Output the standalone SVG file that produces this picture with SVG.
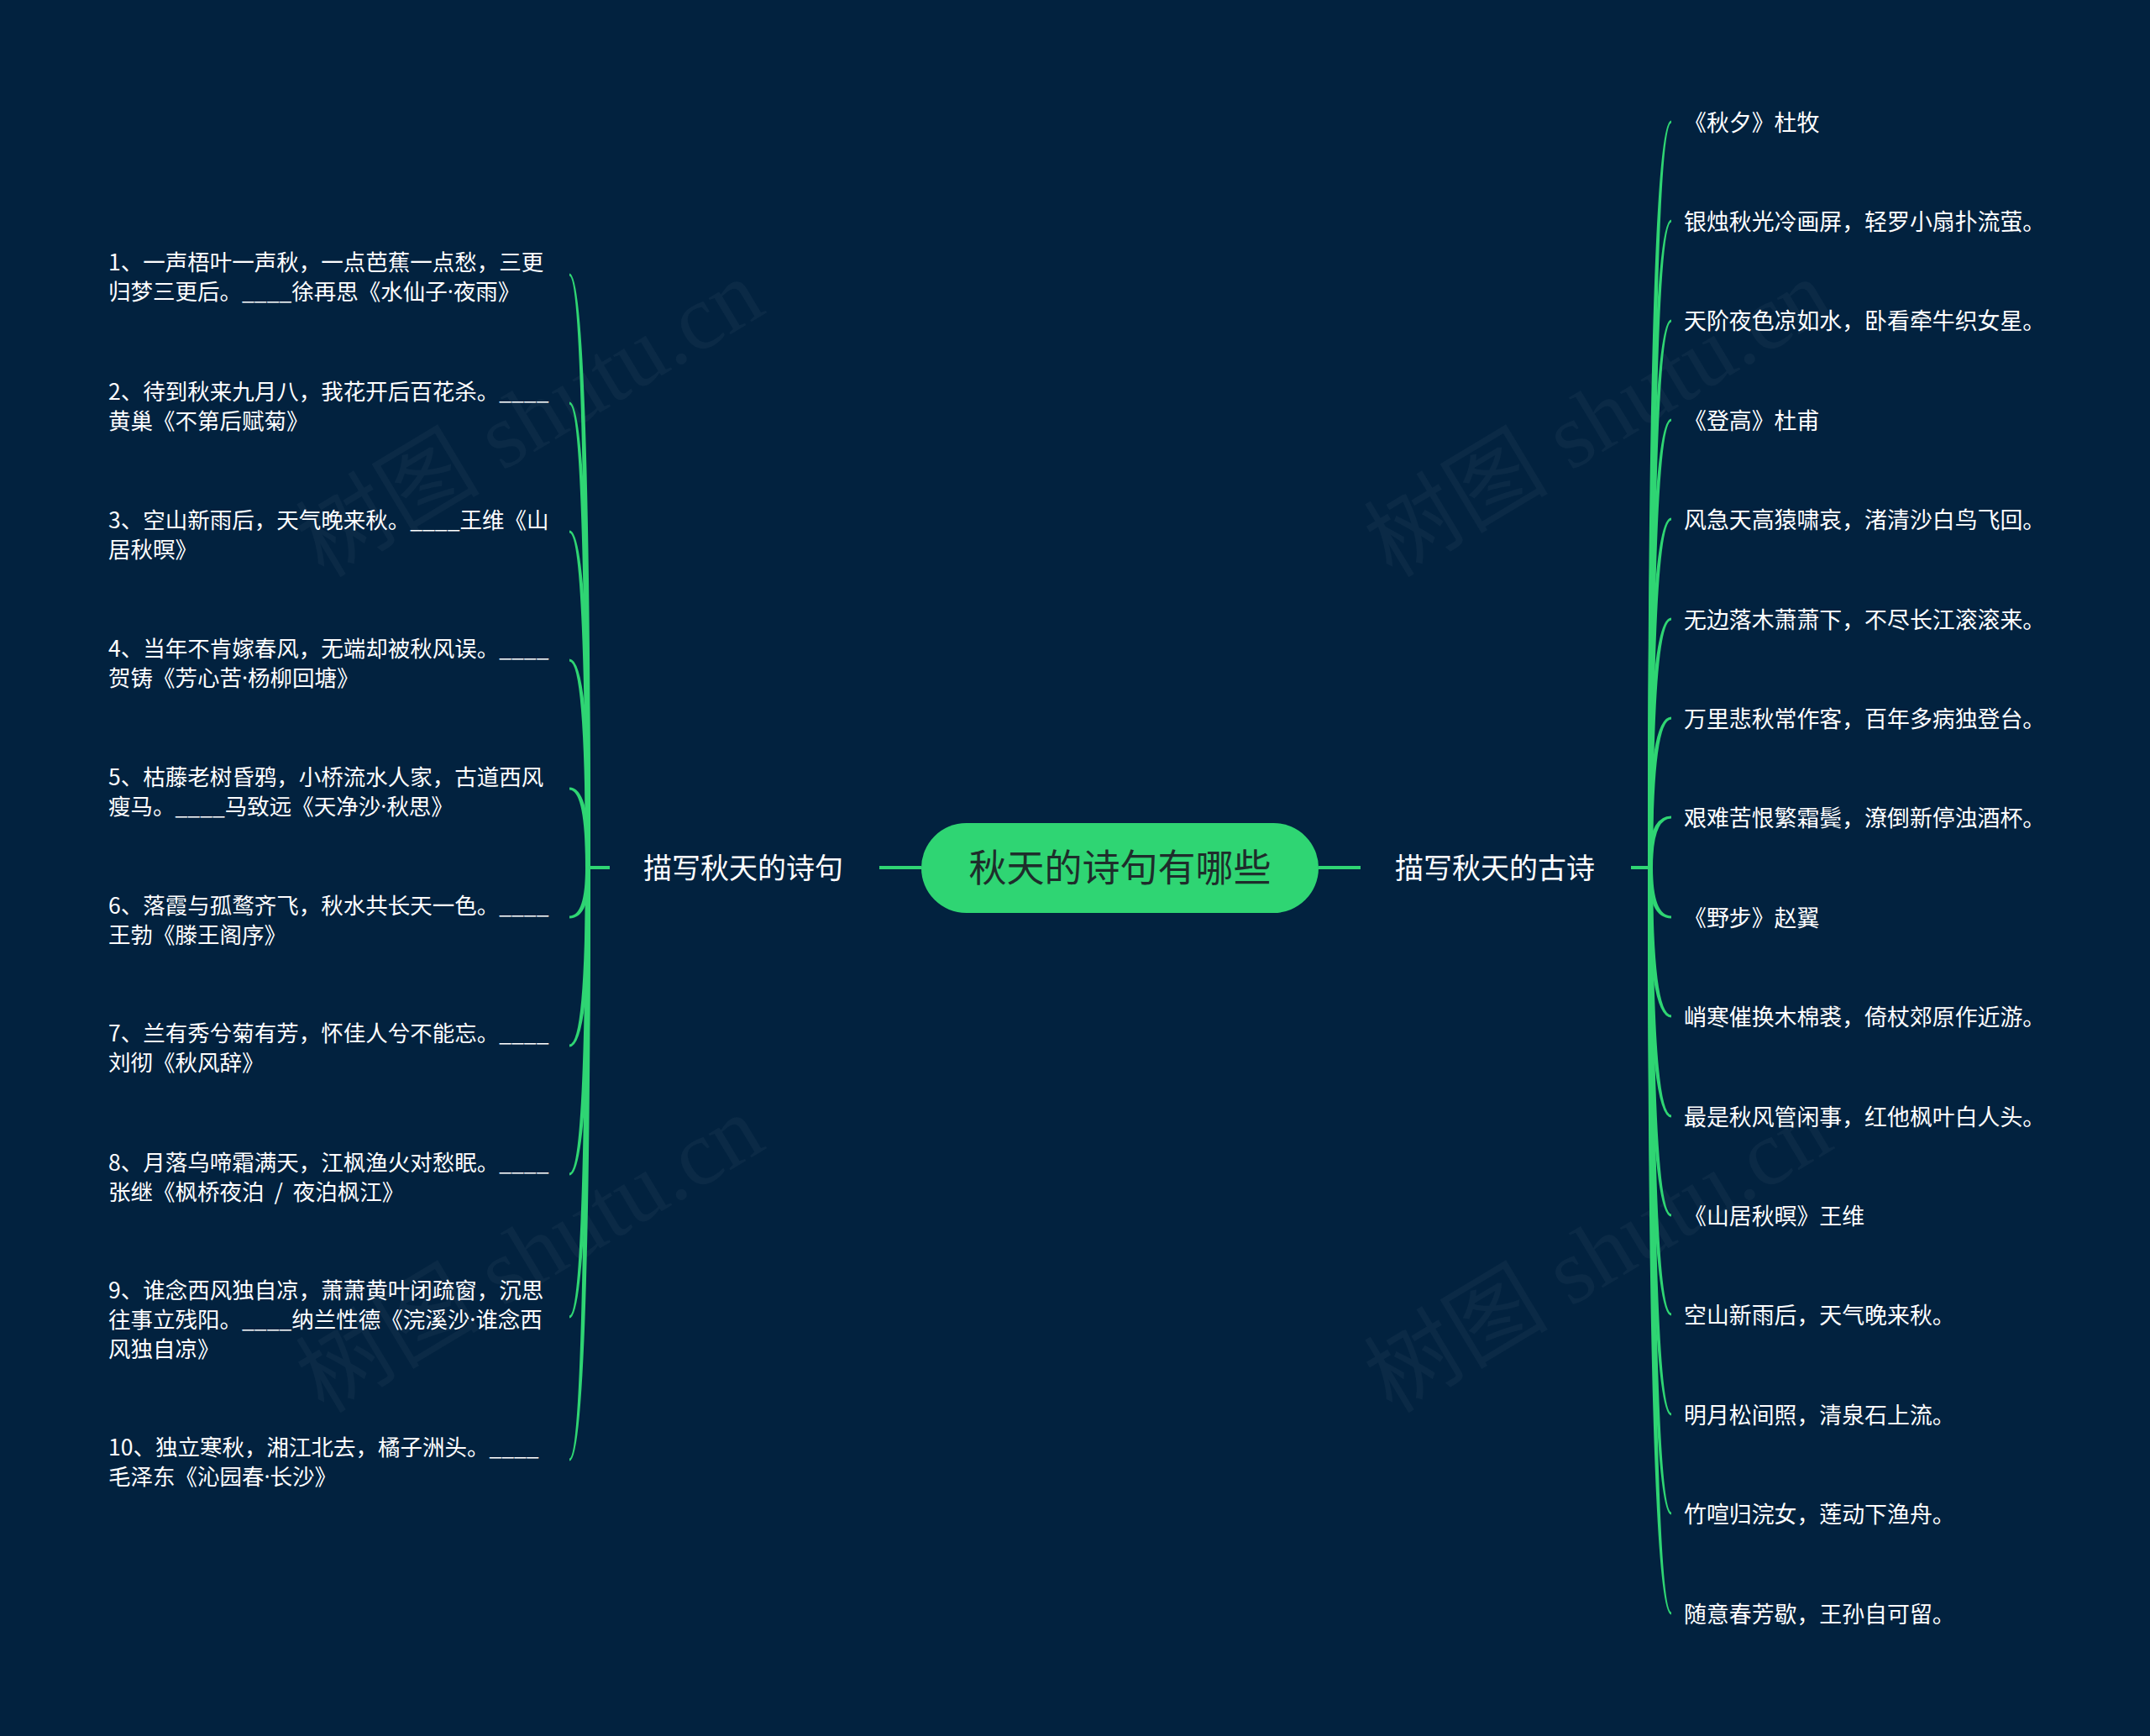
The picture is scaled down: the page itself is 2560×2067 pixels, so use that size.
<svg xmlns="http://www.w3.org/2000/svg" width="2560" height="2067" viewBox="0 0 2560 2067">
<style>
.leaf{font-family:"Noto Sans CJK SC","Noto Sans",sans-serif;font-size:26.5px;fill:#ffffff}
.rl{font-size:26.9px}
.dot{font-family:"Noto Sans",sans-serif}
.sub{font-family:"Noto Sans CJK SC","Noto Sans",sans-serif;font-size:34px;fill:#ffffff;text-anchor:middle}
.root{font-family:"Noto Sans CJK SC","Noto Sans",sans-serif;font-size:45px;fill:#1e2d2b;text-anchor:middle}
.wm{font-family:"Liberation Serif","Noto Sans CJK SC",serif;font-size:110px;fill:#ffffff;fill-opacity:0.04;text-anchor:middle}
.c{fill:#2fd573}
.ln{stroke:#2fd573;stroke-width:4;fill:none}
</style>
<rect x="0" y="0" width="2560" height="2067" fill="#02223f"/>
<g id="watermarks">
<text class="wm" transform="translate(650 530) rotate(-31)">树图 shutu.cn</text>
<text class="wm" transform="translate(1922 530) rotate(-31)">树图 shutu.cn</text>
<text class="wm" transform="translate(650 1525) rotate(-31)">树图 shutu.cn</text>
<text class="wm" transform="translate(1922 1525) rotate(-31)">树图 shutu.cn</text>
</g>
<g id="connectors">
<line class="ln" x1="1047" y1="1033" x2="1097" y2="1033"/>
<line class="ln" x1="1570" y1="1033" x2="1620" y2="1033"/>
<line class="ln" x1="699" y1="1033" x2="726" y2="1033"/>
<line class="ln" x1="1942" y1="1033" x2="1967" y2="1033"/>
<path class="c" d="M703 1033Q703 325.5 678 325.5L678 328.5Q697 328.5 697 1033Z"/>
<path class="c" d="M703 1033Q703 478.5 678 478.5L678 481.5Q697 481.5 697 1033Z"/>
<path class="c" d="M703 1033Q703 631.5 678 631.5L678 634.5Q697 634.5 697 1033Z"/>
<path class="c" d="M703 1033Q703 784.5 678 784.5L678 787.5Q697 787.5 697 1033Z"/>
<path class="c" d="M703 1033Q703 937.5 678 937.5L678 940.5Q697 940.5 697 1033Z"/>
<path class="c" d="M703 1033Q703 1093.5 678 1093.5L678 1090.5Q697 1090.5 697 1033Z"/>
<path class="c" d="M703 1033Q703 1246.5 678 1246.5L678 1243.5Q697 1243.5 697 1033Z"/>
<path class="c" d="M703 1033Q703 1399.5 678 1399.5L678 1396.5Q697 1396.5 697 1033Z"/>
<path class="c" d="M703 1033Q703 1569.5 678 1569.5L678 1566.5Q697 1566.5 697 1033Z"/>
<path class="c" d="M703 1033Q703 1739.5 678 1739.5L678 1736.5Q697 1736.5 697 1033Z"/>
<path class="c" d="M1962 1033Q1962 143.5 1990 143.5L1990 146.5Q1968 146.5 1968 1033Z"/>
<path class="c" d="M1962 1033Q1962 261.5 1990 261.5L1990 264.5Q1968 264.5 1968 1033Z"/>
<path class="c" d="M1962 1033Q1962 380.5 1990 380.5L1990 383.5Q1968 383.5 1968 1033Z"/>
<path class="c" d="M1962 1033Q1962 498.5 1990 498.5L1990 501.5Q1968 501.5 1968 1033Z"/>
<path class="c" d="M1962 1033Q1962 616.5 1990 616.5L1990 619.5Q1968 619.5 1968 1033Z"/>
<path class="c" d="M1962 1033Q1962 735.5 1990 735.5L1990 738.5Q1968 738.5 1968 1033Z"/>
<path class="c" d="M1962 1033Q1962 853.5 1990 853.5L1990 856.5Q1968 856.5 1968 1033Z"/>
<path class="c" d="M1962 1033Q1962 971.5 1990 971.5L1990 974.5Q1968 974.5 1968 1033Z"/>
<path class="c" d="M1962 1033Q1962 1093.5 1990 1093.5L1990 1090.5Q1968 1090.5 1968 1033Z"/>
<path class="c" d="M1962 1033Q1962 1211.5 1990 1211.5L1990 1208.5Q1968 1208.5 1968 1033Z"/>
<path class="c" d="M1962 1033Q1962 1330.5 1990 1330.5L1990 1327.5Q1968 1327.5 1968 1033Z"/>
<path class="c" d="M1962 1033Q1962 1448.5 1990 1448.5L1990 1445.5Q1968 1445.5 1968 1033Z"/>
<path class="c" d="M1962 1033Q1962 1566.5 1990 1566.5L1990 1563.5Q1968 1563.5 1968 1033Z"/>
<path class="c" d="M1962 1033Q1962 1685.5 1990 1685.5L1990 1682.5Q1968 1682.5 1968 1033Z"/>
<path class="c" d="M1962 1033Q1962 1803.5 1990 1803.5L1990 1800.5Q1968 1800.5 1968 1033Z"/>
<path class="c" d="M1962 1033Q1962 1922.5 1990 1922.5L1990 1919.5Q1968 1919.5 1968 1033Z"/>
</g>
<g id="root">
<rect x="1097" y="980" width="473" height="107" rx="53.5" fill="#2fd573"/>
<text class="root" x="1333.5" y="1050">秋天的诗句有哪些</text>
</g>
<g id="branch-left"><text class="sub" x="885" y="1046">描写秋天的诗句</text></g>
<g id="branch-right"><text class="sub" x="1780" y="1046">描写秋天的古诗</text></g>
<g id="left-leaves">
<g id="l1"><text class="leaf" x="129" y="322">1、一声梧叶一声秋，一点芭蕉一点愁，三更</text><text class="leaf" x="129" y="357">归梦三更后。____徐再思《水仙子<tspan class="dot">·</tspan>夜雨》</text></g>
<g id="l2"><text class="leaf" x="129" y="476">2、待到秋来九月八，我花开后百花杀。____</text><text class="leaf" x="129" y="511">黄巢《不第后赋菊》</text></g>
<g id="l3"><text class="leaf" x="129" y="629">3、空山新雨后，天气晚来秋。____王维《山</text><text class="leaf" x="129" y="664">居秋暝》</text></g>
<g id="l4"><text class="leaf" x="129" y="782">4、当年不肯嫁春风，无端却被秋风误。____</text><text class="leaf" x="129" y="817">贺铸《芳心苦<tspan class="dot">·</tspan>杨柳回塘》</text></g>
<g id="l5"><text class="leaf" x="129" y="935">5、枯藤老树昏鸦，小桥流水人家，古道西风</text><text class="leaf" x="129" y="970">瘦马。____马致远《天净沙<tspan class="dot">·</tspan>秋思》</text></g>
<g id="l6"><text class="leaf" x="129" y="1088">6、落霞与孤鹜齐飞，秋水共长天一色。____</text><text class="leaf" x="129" y="1123">王勃《滕王阁序》</text></g>
<g id="l7"><text class="leaf" x="129" y="1240">7、兰有秀兮菊有芳，怀佳人兮不能忘。____</text><text class="leaf" x="129" y="1275">刘彻《秋风辞》</text></g>
<g id="l8"><text class="leaf" x="129" y="1394">8、月落乌啼霜满天，江枫渔火对愁眠。____</text><text class="leaf" x="129" y="1429">张继《枫桥夜泊 <tspan dx="6">/</tspan> <tspan dx="6">夜泊枫江》</tspan></text></g>
<g id="l9"><text class="leaf" x="129" y="1546">9、谁念西风独自凉，萧萧黄叶闭疏窗，沉思</text><text class="leaf" x="129" y="1581">往事立残阳。____纳兰性德《浣溪沙<tspan class="dot">·</tspan>谁念西</text><text class="leaf" x="129" y="1616">风独自凉》</text></g>
<g id="l10"><text class="leaf" x="129" y="1733">10、独立寒秋，湘江北去，橘子洲头。____</text><text class="leaf" x="129" y="1768">毛泽东《沁园春<tspan class="dot">·</tspan>长沙》</text></g>
</g>
<g id="right-leaves">
<g id="r1"><text class="leaf rl" x="2005" y="155.5">《秋夕》杜牧</text></g>
<g id="r2"><text class="leaf rl" x="2005" y="273.9">银烛秋光冷画屏，轻罗小扇扑流萤。</text></g>
<g id="r3"><text class="leaf rl" x="2005" y="392.3">天阶夜色凉如水，卧看牵牛织女星。</text></g>
<g id="r4"><text class="leaf rl" x="2005" y="510.7">《登高》杜甫</text></g>
<g id="r5"><text class="leaf rl" x="2005" y="629.1">风急天高猿啸哀，渚清沙白鸟飞回。</text></g>
<g id="r6"><text class="leaf rl" x="2005" y="747.5">无边落木萧萧下，不尽长江滚滚来。</text></g>
<g id="r7"><text class="leaf rl" x="2005" y="865.9">万里悲秋常作客，百年多病独登台。</text></g>
<g id="r8"><text class="leaf rl" x="2005" y="984.3">艰难苦恨繁霜鬓，潦倒新停浊酒杯。</text></g>
<g id="r9"><text class="leaf rl" x="2005" y="1102.7">《野步》赵翼</text></g>
<g id="r10"><text class="leaf rl" x="2005" y="1221.1">峭寒催换木棉裘，倚杖郊原作近游。</text></g>
<g id="r11"><text class="leaf rl" x="2005" y="1339.5">最是秋风管闲事，红他枫叶白人头。</text></g>
<g id="r12"><text class="leaf rl" x="2005" y="1457.9">《山居秋暝》王维</text></g>
<g id="r13"><text class="leaf rl" x="2005" y="1576.3">空山新雨后，天气晚来秋。</text></g>
<g id="r14"><text class="leaf rl" x="2005" y="1694.7">明月松间照，清泉石上流。</text></g>
<g id="r15"><text class="leaf rl" x="2005" y="1813.1">竹喧归浣女，莲动下渔舟。</text></g>
<g id="r16"><text class="leaf rl" x="2005" y="1931.5">随意春芳歇，王孙自可留。</text></g>
</g>
</svg>
